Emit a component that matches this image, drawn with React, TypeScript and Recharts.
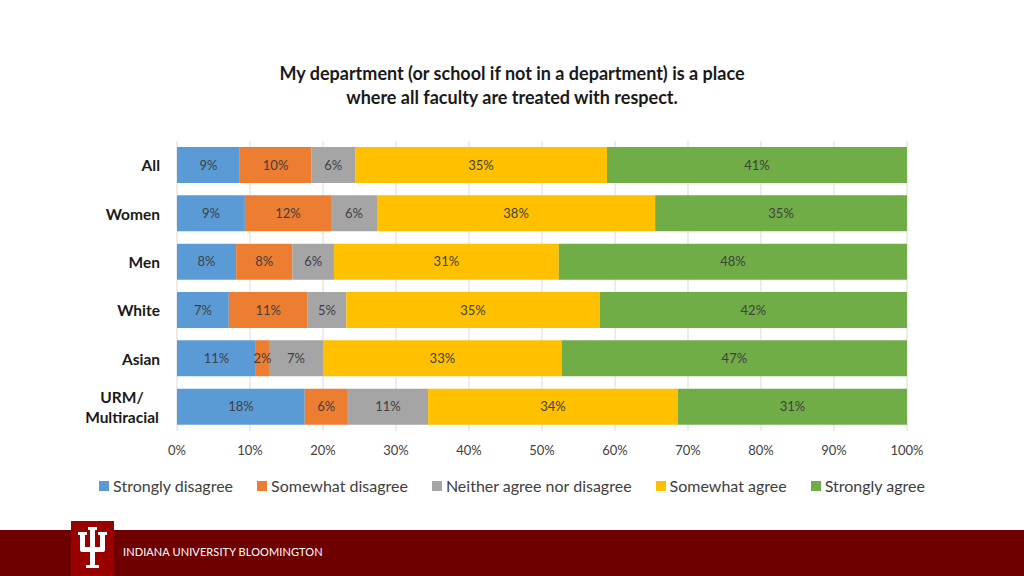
import { BarChart, Bar, XAxis, YAxis, CartesianGrid, LabelList } from "recharts";

// respondent groups, top to bottom
const groups = ["All", "Women", "Men", "White", "Asian", "URM/\nMultiracial"];

// shares (%)
const stronglyDisagree = [8.6, 9.3, 8.1, 7.1, 10.8, 17.5];
const somewhatDisagree = [9.8, 11.8, 7.7, 10.8, 1.8, 5.9];
const neither = [6.0, 6.3, 5.7, 5.3, 7.4, 11.0];
const somewhatAgree = [34.5, 38.1, 30.8, 34.7, 32.7, 34.2];
const stronglyAgree = [41.1, 34.5, 47.7, 42.1, 47.3, 31.4];

const xTicks = [0, 10, 20, 30, 40, 50, 60, 70, 80, 90, 100];

const series = [
  { key: "sd", name: "Strongly disagree", color: "#5B9BD5", values: stronglyDisagree },
  { key: "swd", name: "Somewhat disagree", color: "#ED7D31", values: somewhatDisagree },
  { key: "n", name: "Neither agree nor disagree", color: "#A5A5A5", values: neither },
  { key: "swa", name: "Somewhat agree", color: "#FFC000", values: somewhatAgree },
  { key: "sa", name: "Strongly agree", color: "#70AD47", values: stronglyAgree },
];

const data = groups.map((g, i) => {
  const row: any = { group: g };
  series.forEach((s) => (row[s.key] = s.values[i]));
  return row;
});

const FONT = "Lato, 'Open Sans', sans-serif";

function GroupTick({ x, y, payload }: any) {
  const lines = String(payload.value).split("\n");
  const lh = 20;
  const multi = lines.length > 1;
  const tx = multi ? x - 38 : x;
  const start = y - ((lines.length - 1) * lh) / 2;
  return (
    <text
      x={tx}
      y={start}
      textAnchor={multi ? "middle" : "end"}
      fill="#1a1a1a"
      fontSize={15.5}
      fontWeight={700}
      fontFamily={FONT}
      dominantBaseline="central"
    >
      {lines.map((l, i) => (
        <tspan key={i} x={tx} dy={i === 0 ? 0 : lh}>
          {l}
        </tspan>
      ))}
    </text>
  );
}

function Trident() {
  return (
    <svg width={43} height={55} viewBox="0 0 43 55" style={{ position: "absolute", left: 71, top: 521 }}>
      <rect width={43} height={55} fill="#990000" />
      <g fill="#fff">
        <rect x={7} y={11} width={9} height={3} />
        <rect x={17} y={6} width={9} height={3} />
        <rect x={27} y={11} width={9} height={3} />
        <rect x={9} y={11} width={5} height={17} />
        <rect x={19} y={6} width={5} height={40} />
        <rect x={29} y={11} width={5} height={17} />
        <rect x={9} y={26} width={25} height={5} rx={2} />
        <rect x={15} y={44} width={13} height={3} />
      </g>
    </svg>
  );
}

export default function App() {
  return (
    <div
      style={{
        position: "absolute",
        left: 0,
        top: 0,
        width: 1024,
        height: 576,
        background: "#fff",
        fontFamily: FONT,
        overflow: "hidden",
      }}
    >
      <div
        style={{
          position: "absolute",
          top: 61,
          left: 0,
          width: 1024,
          textAlign: "center",
          fontSize: 18,
          fontWeight: 700,
          lineHeight: "24px",
          color: "#1a1a1a",
        }}
      >
        My department (or school if not in a department) is a place
        <br />
        where all faculty are treated with respect.
      </div>

      <div style={{ position: "absolute", left: 0, top: 0 }}>
        <BarChart
          width={1024}
          height={576}
          data={data}
          layout="vertical"
          barCategoryGap={6}
          margin={{ top: 141, right: 117, bottom: 115, left: 17 }}
        >
          <CartesianGrid horizontal={false} stroke="#d9d9d9" />
          <XAxis
            type="number"
            domain={[0, 100]}
            ticks={xTicks}
            tickFormatter={(v) => `${v}%`}
            axisLine={false}
            tickLine={false}
            tickSize={0}
            tickMargin={15}
            height={30}
            interval={0}
            tick={{ fill: "#404040", fontSize: 13, fontFamily: FONT }}
          />
          <YAxis
            type="category"
            dataKey="group"
            width={160}
            axisLine={false}
            tickLine={false}
            tickSize={0}
            tickMargin={17}
            interval={0}
            tick={<GroupTick />}
          />
          {series.map((s) => (
            <Bar key={s.key} dataKey={s.key} name={s.name} stackId="a" fill={s.color} isAnimationActive={false}>
              <LabelList
                dataKey={s.key}
                position="center"
                formatter={(v: any) => `${Math.round(Number(v))}%`}
                style={{ fill: "#404040", fontSize: 13, fontFamily: FONT }}
              />
            </Bar>
          ))}
        </BarChart>
      </div>

      <div
        style={{
          position: "absolute",
          top: 476,
          left: 0,
          width: 1024,
          display: "flex",
          justifyContent: "center",
          gap: 24,
          fontSize: 16,
          color: "#404040",
        }}
      >
        {series.map((s) => (
          <div key={s.key} style={{ display: "flex", alignItems: "center" }}>
            <span style={{ width: 10, height: 10, background: s.color, marginRight: 4, display: "inline-block" }} />
            <span>{s.name}</span>
          </div>
        ))}
      </div>

      <div style={{ position: "absolute", left: 0, top: 530, width: 1024, height: 46, background: "#6e0000" }} />
      <Trident />
      <div
        style={{
          position: "absolute",
          left: 123,
          top: 545,
          fontSize: 11,
          color: "#fff",
          letterSpacing: 0.1,
        }}
      >
        INDIANA UNIVERSITY BLOOMINGTON
      </div>
    </div>
  );
}
